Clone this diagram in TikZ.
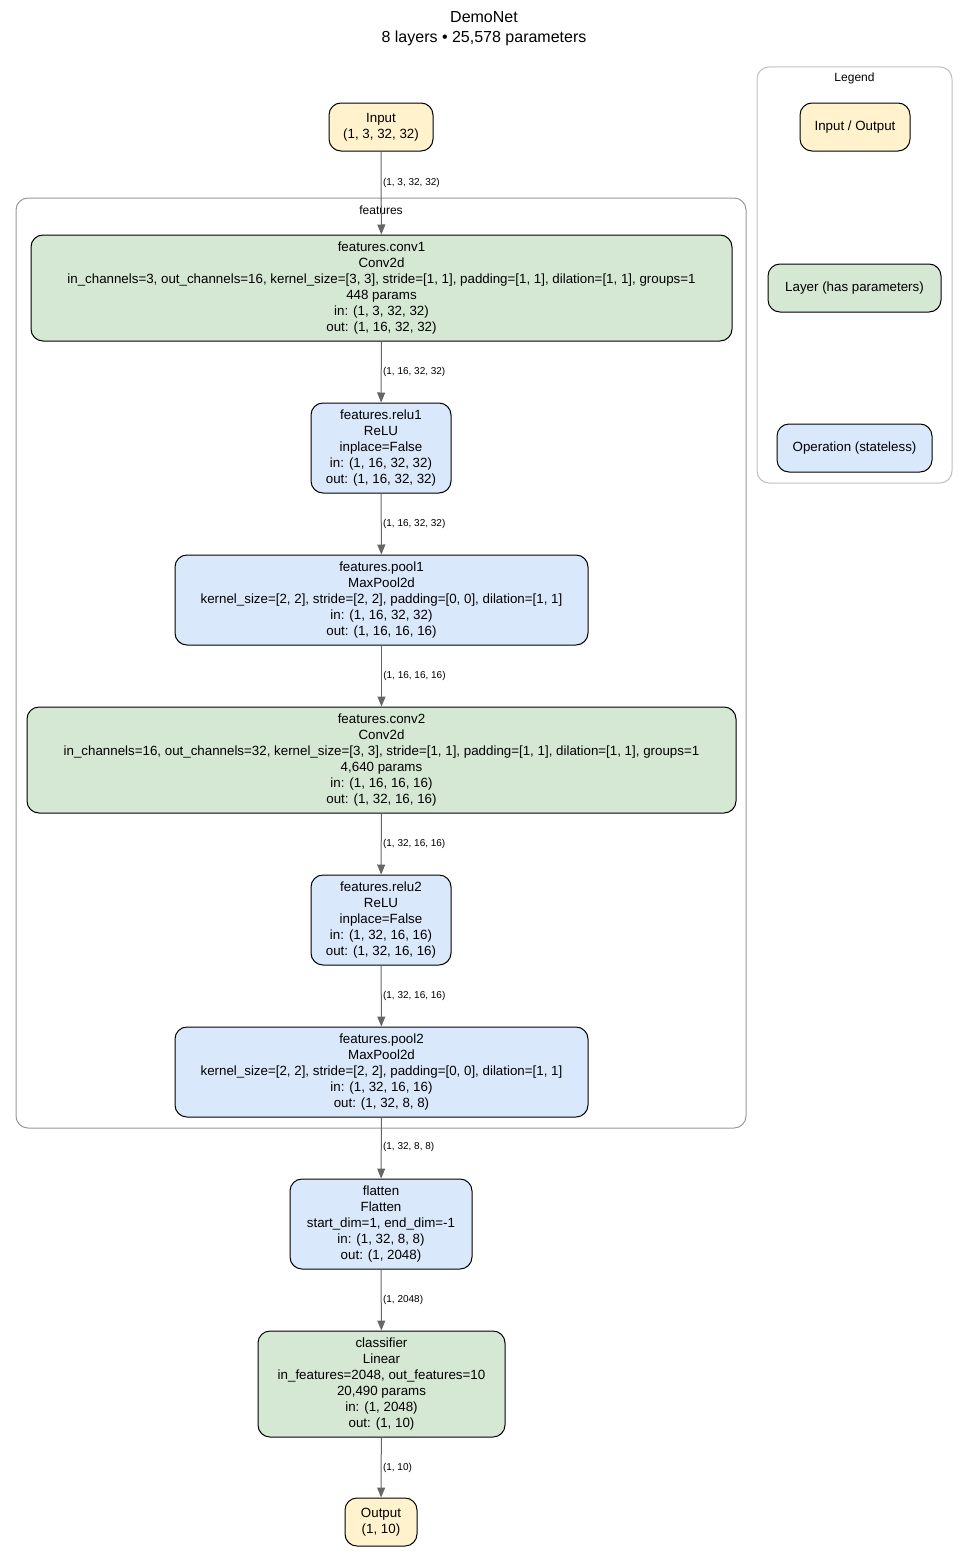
\documentclass[tikz,border=0pt]{standalone}
\usepackage{fontspec}
\setmainfont{Liberation Sans}
\usetikzlibrary{arrows.meta}
\definecolor{iofill}{HTML}{FFF2CC}
\definecolor{layerfill}{HTML}{D5E8D4}
\definecolor{opfill}{HTML}{DAE8FC}
\definecolor{edgegray}{HTML}{666666}
\definecolor{clustergray}{HTML}{999999}
\tikzset{
  box/.style={rectangle, rounded corners=9pt, draw=black, line width=0.75pt, align=center, inner sep=0pt,
    font=\fontsize{10}{12}\selectfont},
  iobox/.style={box, fill=iofill},
  layerbox/.style={box, fill=layerfill},
  opbox/.style={box, fill=opfill},
  flow/.style={draw=edgegray, line width=0.75pt, -{Triangle[width=6pt,length=7.5pt]}},
  shape label/.style={font=\fontsize{7.5}{9}\selectfont, anchor=west, inner sep=1pt},
}
\begin{document}
\begin{tikzpicture}[x=0.75pt, y=-0.75pt]
  \useasboundingbox[fill=white] (0,0) rectangle (968,1552);
  % Header
  \node (title) [font=\fontsize{12}{15}\selectfont, align=center] at (484,29) {DemoNet\\8 layers • 25,578 parameters};
  % Clusters
  \draw[clustergray, rounded corners=9pt, line width=0.75pt] (16,198) rectangle (746,1128);
  \node (featlabel) [font=\fontsize{9}{11}\selectfont] at (381,210) {features};
  \draw[black!25, rounded corners=9pt, line width=0.75pt] (757,67) rectangle (952,483);
  \node (leglabel) [font=\fontsize{9}{11}\selectfont] at (854.5,78) {Legend};
  % Nodes
  \node (input) [iobox, minimum width={104*0.75pt}, minimum height={48*0.75pt}] at (381,127) {Input\\(1, 3, 32, 32)};
  \node (conv1) [layerbox, minimum width={701*0.75pt}, minimum height={106*0.75pt}] at (381.5,288) {features.conv1\\Conv2d\\in\_channels=3, out\_channels=16, kernel\_size=[3, 3], stride=[1, 1], padding=[1, 1], dilation=[1, 1], groups=1\\448 params\\in: (1, 3, 32, 32)\\out: (1, 16, 32, 32)};
  \node (relu1) [opbox, minimum width={140*0.75pt}, minimum height={90*0.75pt}] at (381,448) {features.relu1\\ReLU\\inplace=False\\in: (1, 16, 32, 32)\\out: (1, 16, 32, 32)};
  \node (pool1) [opbox, minimum width={413*0.75pt}, minimum height={90*0.75pt}] at (381.5,600) {features.pool1\\MaxPool2d\\kernel\_size=[2, 2], stride=[2, 2], padding=[0, 0], dilation=[1, 1]\\in: (1, 16, 32, 32)\\out: (1, 16, 16, 16)};
  \node (conv2) [layerbox, minimum width={709*0.75pt}, minimum height={106*0.75pt}] at (381.5,760) {features.conv2\\Conv2d\\in\_channels=16, out\_channels=32, kernel\_size=[3, 3], stride=[1, 1], padding=[1, 1], dilation=[1, 1], groups=1\\4,640 params\\in: (1, 16, 16, 16)\\out: (1, 32, 16, 16)};
  \node (relu2) [opbox, minimum width={140*0.75pt}, minimum height={90*0.75pt}] at (381,920) {features.relu2\\ReLU\\inplace=False\\in: (1, 32, 16, 16)\\out: (1, 32, 16, 16)};
  \node (pool2) [opbox, minimum width={413*0.75pt}, minimum height={90*0.75pt}] at (381.5,1072) {features.pool2\\MaxPool2d\\kernel\_size=[2, 2], stride=[2, 2], padding=[0, 0], dilation=[1, 1]\\in: (1, 32, 16, 16)\\out: (1, 32, 8, 8)};
  \node (flatten) [opbox, minimum width={182*0.75pt}, minimum height={90*0.75pt}] at (381,1224) {flatten\\Flatten\\start\_dim=1, end\_dim=-1\\in: (1, 32, 8, 8)\\out: (1, 2048)};
  \node (classifier) [layerbox, minimum width={247*0.75pt}, minimum height={106*0.75pt}] at (381.5,1384) {classifier\\Linear\\in\_features=2048, out\_features=10\\20,490 params\\in: (1, 2048)\\out: (1, 10)};
  \node (output) [iobox, minimum width={72*0.75pt}, minimum height={48*0.75pt}] at (381,1522) {Output\\(1, 10)};
  % Legend
  \node (legio) [iobox, minimum width={110*0.75pt}, minimum height={48*0.75pt}] at (855,127) {Input / Output};
  \node (leglayer) [layerbox, minimum width={173*0.75pt}, minimum height={48*0.75pt}] at (854.5,288) {Layer (has parameters)};
  \node (legop) [opbox, minimum width={155*0.75pt}, minimum height={48*0.75pt}] at (854.5,448) {Operation (stateless)};
  % Arrows
  \draw[flow] (input) -- node[shape label, pos=0.38] {(1, 3, 32, 32)} (conv1);
  \draw[flow] (conv1) -- node[shape label] {(1, 16, 32, 32)} (relu1);
  \draw[flow] (relu1) -- node[shape label] {(1, 16, 32, 32)} (pool1);
  \draw[flow] (pool1) -- node[shape label] {(1, 16, 16, 16)} (conv2);
  \draw[flow] (conv2) -- node[shape label] {(1, 32, 16, 16)} (relu2);
  \draw[flow] (relu2) -- node[shape label] {(1, 32, 16, 16)} (pool2);
  \draw[flow] (pool2) -- node[shape label, pos=0.48] {(1, 32, 8, 8)} (flatten);
  \draw[flow] (flatten) -- node[shape label] {(1, 2048)} (classifier);
  \draw[flow] (classifier) -- node[shape label] {(1, 10)} (output);
\end{tikzpicture}
\end{document}
